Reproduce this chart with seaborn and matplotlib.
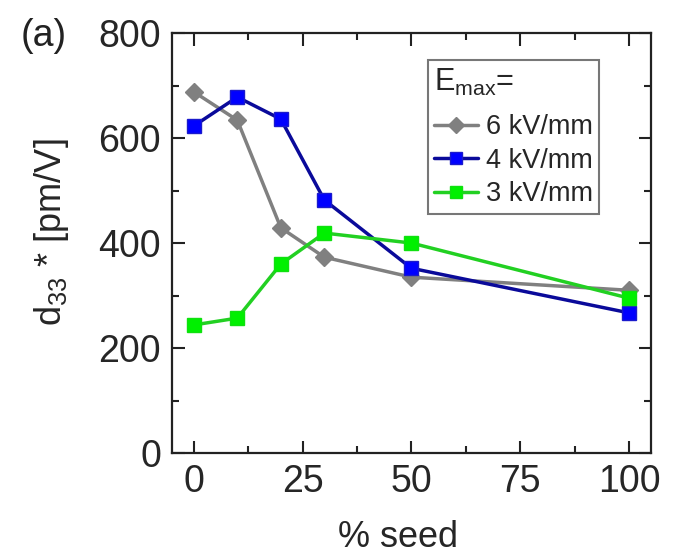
import matplotlib
matplotlib.use("Agg")
import matplotlib.pyplot as plt
import seaborn as sns
import pandas as pd
from matplotlib.ticker import MultipleLocator

seed = [0, 10, 20, 30, 50, 100]
d33_6kV = [688, 634, 429, 373, 335, 310]
d33_4kV = [623, 678, 636, 482, 352, 267]
d33_3kV = [244, 257, 360, 419, 400, 295]
labels = ["6 kV/mm", "4 kV/mm", "3 kV/mm"]

sns.set_theme(style="white")
plt.rcParams['font.family'] = ['Liberation Sans', 'DejaVu Sans']
plt.rcParams['mathtext.fontset'] = 'custom'
plt.rcParams['mathtext.rm'] = 'Liberation Sans'
plt.rcParams['mathtext.it'] = 'Liberation Sans'

fig = plt.figure(figsize=(6.73, 5.6), dpi=100)
ax = fig.add_axes([0.2556, 0.191, 0.7114, 0.75])

styles = [
    dict(color="#808080", marker="D", markersize=9, mfc="#808080", mec="#808080"),
    dict(color="#0a0a9a", marker="s", markersize=9.5, mfc="#0000ff", mec="#1a1acc"),
    dict(color="#22d022", marker="s", markersize=9.5, mfc="#00f000", mec="#10e010"),
]
for vals, lab, st in zip([d33_6kV, d33_4kV, d33_3kV], labels, styles):
    df = pd.DataFrame({"seed": seed, "d33": vals})
    sns.lineplot(data=df, x="seed", y="d33", ax=ax, label=lab, linewidth=2.5,
                 color=st["color"], marker=st["marker"], markersize=st["markersize"],
                 markerfacecolor=st["mfc"], markeredgecolor=st["mec"], markeredgewidth=1)

ax.set_xlim(-5, 105)
ax.set_ylim(0, 800)
ax.xaxis.set_major_locator(MultipleLocator(25))
ax.xaxis.set_minor_locator(MultipleLocator(12.5))
ax.yaxis.set_major_locator(MultipleLocator(200))
ax.yaxis.set_minor_locator(MultipleLocator(100))
ax.tick_params(which="both", direction="in", top=True, right=True, bottom=True, left=True,
               labelsize=27, color="#222222", width=1.5)
ax.tick_params(which="major", length=9, pad=8)
ax.tick_params(which="minor", length=5)
for s in ax.spines.values():
    s.set_color("#222222")
    s.set_linewidth(1.6)

ax.set_xlabel("% seed", fontsize=26)
ax.set_ylabel("d$_{33}$ * [pm/V]", fontsize=26)
ax.xaxis.set_label_coords(0.472, -0.16)
ax.yaxis.set_label_coords(-0.21, 0.526)

leg = ax.legend(title="E$_{max}$=", loc="upper left", bbox_to_anchor=(0.534, 0.936),
                fontsize=19.5, title_fontsize=22, frameon=True, fancybox=False,
                handlelength=1.6, handletextpad=0.29, borderpad=0.25, labelspacing=0.27,
                borderaxespad=0, markerscale=0.95)
leg._legend_box.align = "left"
leg._legend_box.sep = 12
leg.get_frame().set_edgecolor("#555555")
leg.get_frame().set_linewidth(1.5)

fig.text(0.03, 0.918, "(a)", fontsize=27, color="#222222")

fig.savefig("out.png", dpi=100)
